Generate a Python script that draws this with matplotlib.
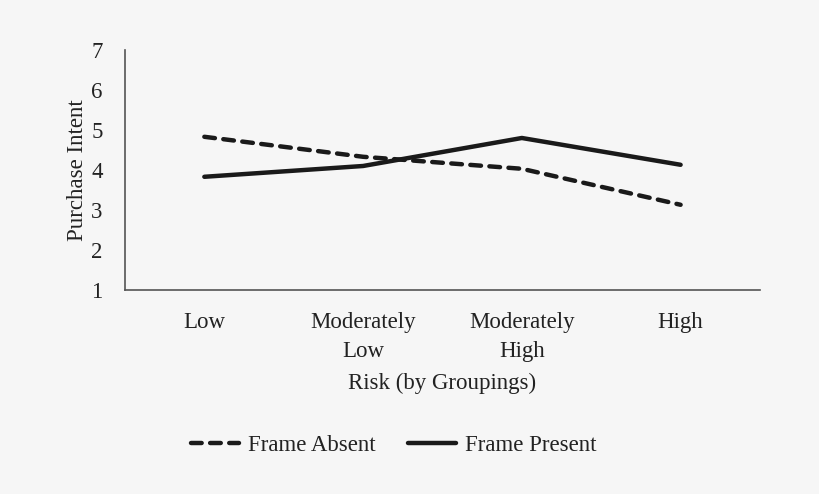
import matplotlib
matplotlib.use('Agg')
import matplotlib.pyplot as plt
import numpy as np

plt.rcParams['font.family'] = ['Liberation Serif', 'DejaVu Serif']
plt.rcParams.update({'font.size': 16.5})

# risk groupings on the x axis
groups = ["Low", "Moderately\nLow", "Moderately\nHigh", "High"]
# mean purchase intent per grouping
frame_absent = [4.83, 4.33, 4.03, 3.13]
frame_present = [3.83, 4.10, 4.80, 4.13]

bg = '#f6f6f6'
fig = plt.figure(figsize=(8.2, 4.94), dpi=100, facecolor=bg)
ax = fig.add_axes([0.1524, 0.413, 0.7744, 0.4858], facecolor=bg)

x = np.arange(len(groups))
ax.plot(x, frame_absent, color='#1a1a1a', lw=3.2, ls=(0, (2.4, 1.9)),
        dash_capstyle='round', solid_capstyle='round', label='Frame Absent')
ax.plot(x, frame_present, color='#1a1a1a', lw=3.2, solid_capstyle='round',
        label='Frame Present')

ax.set_xlim(-0.5, len(groups) - 0.5)
ax.set_ylim(1, 7)
ax.set_yticks(range(1, 8))
ax.set_xticks(x)
ax.set_xticklabels(groups, linespacing=1.5)
ax.tick_params(axis='both', length=0, colors='#222222', labelsize=16.5)
ax.tick_params(axis='x', pad=16)
ax.tick_params(axis='y', pad=16)

for s in ['top', 'right']:
    ax.spines[s].set_visible(False)
for s in ['left', 'bottom']:
    ax.spines[s].set_color('#555555')
    ax.spines[s].set_linewidth(1.2)

ax.set_xlabel('Risk (by Groupings)', color='#222222', labelpad=8)
ax.set_ylabel('Purchase Intent', color='#222222', labelpad=2)

fig.legend(loc='center', bbox_to_anchor=(0.48, 0.098), ncol=2, frameon=False,
           handlelength=2.1, handletextpad=0.4, columnspacing=1.4,
           fontsize=16.5, labelcolor='#222222')

fig.savefig('out.png', dpi=100, facecolor=bg)
